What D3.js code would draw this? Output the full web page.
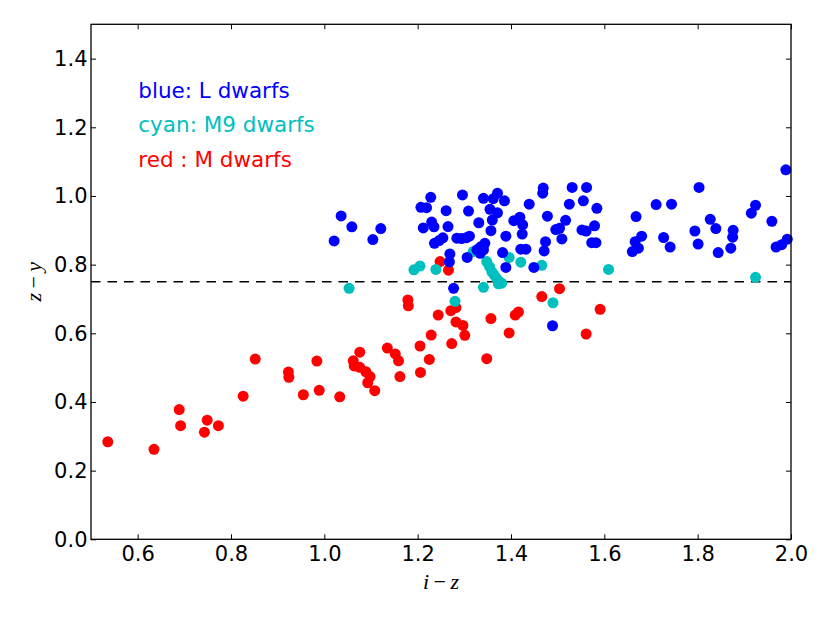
<!DOCTYPE html>
<meta charset="utf-8">
<html>
<head>
  <script src="https://d3js.org/d3.v7.min.js" charset="utf-8"></script>
  <style>
    body { margin: 0; background: #fff; }
    .axis text {
      font-family: 'DejaVu Sans', sans-serif;
      font-size: 21px;
      fill: #000;
    }
    .axis line { stroke: #000; stroke-width: 1; }
    .axis path { display: none; }
    .note {
      font-family: 'DejaVu Sans', sans-serif;
      font-size: 21.5px;
    }
    .axlabel {
      font-family: 'Liberation Serif', 'DejaVu Serif', serif;
      font-size: 22px;
    }
  </style>
</head>
<body>
  <script>
    // [i-z, z-y] for each object
    var lDwarfs = [
      [1.036, 0.942], [1.059, 0.910], [1.021, 0.869], [1.121, 0.905], [1.104, 0.873],
      [1.228, 0.996], [1.207, 0.967], [1.219, 0.966], [1.261, 0.957], [1.296, 1.003],
      [1.309, 0.956], [1.230, 0.924], [1.212, 0.907], [1.235, 0.910], [1.265, 0.911],
      [1.236, 0.862], [1.246, 0.870], [1.254, 0.878], [1.284, 0.877], [1.294, 0.876],
      [1.304, 0.878], [1.311, 0.883], [1.269, 0.831], [1.268, 0.808], [1.306, 0.821],
      [1.277, 0.731], [1.331, 0.922], [1.469, 1.023], [1.468, 1.008], [1.531, 1.025],
      [1.562, 1.025], [1.341, 0.993], [1.371, 1.008], [1.362, 0.992], [1.386, 0.986],
      [1.355, 0.961], [1.371, 0.951], [1.439, 0.976], [1.525, 0.976], [1.555, 0.986],
      [1.584, 0.964], [1.360, 0.930], [1.406, 0.928], [1.419, 0.938], [1.425, 0.916],
      [1.478, 0.941], [1.517, 0.929], [1.357, 0.899], [1.389, 0.883], [1.424, 0.889],
      [1.496, 0.902], [1.504, 0.906], [1.509, 0.875], [1.552, 0.901], [1.561, 0.898],
      [1.573, 0.864], [1.582, 0.864], [1.474, 0.867], [1.344, 0.862], [1.335, 0.852],
      [1.341, 0.843], [1.327, 0.843], [1.421, 0.845], [1.432, 0.845], [1.382, 0.835],
      [1.471, 0.840], [1.389, 0.792], [1.449, 0.792], [1.334, 0.833], [1.489, 0.622],
      [1.579, 0.913], [1.668, 0.940], [1.680, 0.883], [1.666, 0.867], [1.673, 0.848],
      [1.660, 0.838], [1.711, 0.975], [1.744, 0.976], [1.727, 0.879], [1.741, 0.851],
      [1.803, 1.025], [1.794, 0.898], [1.801, 0.860], [1.827, 0.932], [1.839, 0.905],
      [1.844, 0.835], [1.876, 0.900], [1.875, 0.880], [1.871, 0.848], [1.915, 0.950],
      [1.924, 0.973], [1.959, 0.926], [1.968, 0.851], [1.980, 0.858], [1.992, 0.874],
      [1.989, 1.076]
    ];

    var m9Dwarfs = [
      [1.053, 0.731], [1.192, 0.785], [1.205, 0.796], [1.239, 0.786], [1.280, 0.693],
      [1.319, 0.838], [1.348, 0.809], [1.354, 0.794], [1.359, 0.779], [1.364, 0.770],
      [1.369, 0.760], [1.376, 0.750], [1.341, 0.734], [1.373, 0.744], [1.380, 0.746],
      [1.396, 0.821], [1.421, 0.807], [1.466, 0.798], [1.490, 0.689], [1.609, 0.786],
      [1.924, 0.763]
    ];

    var mDwarfs = [
      [0.536, 0.284], [0.635, 0.262], [0.689, 0.378], [0.692, 0.331], [0.749, 0.347],
      [0.743, 0.312], [0.773, 0.331], [0.826, 0.417], [0.852, 0.525], [0.923, 0.487],
      [0.924, 0.472], [0.984, 0.519], [0.955, 0.421], [0.989, 0.434], [1.033, 0.415],
      [1.076, 0.545], [1.062, 0.520], [1.064, 0.505], [1.076, 0.501], [1.089, 0.488],
      [1.098, 0.474], [1.093, 0.456], [1.108, 0.433], [1.135, 0.557], [1.152, 0.540],
      [1.159, 0.520], [1.162, 0.474], [1.179, 0.697], [1.180, 0.680], [1.205, 0.563],
      [1.229, 0.595], [1.225, 0.524], [1.206, 0.486], [1.244, 0.653], [1.248, 0.809],
      [1.266, 0.784], [1.271, 0.666], [1.282, 0.675], [1.282, 0.633], [1.297, 0.623],
      [1.301, 0.594], [1.273, 0.570], [1.357, 0.643], [1.396, 0.601], [1.409, 0.653],
      [1.416, 0.662], [1.348, 0.526], [1.466, 0.707], [1.504, 0.730], [1.561, 0.598],
      [1.591, 0.670]
    ];

    var xTicks = [0.6, 0.8, 1.0, 1.2, 1.4, 1.6, 1.8, 2.0];
    var yTicks = [0.0, 0.2, 0.4, 0.6, 0.8, 1.0, 1.2, 1.4];
    var cutLine = 0.75;
    var notes = ['blue: L dwarfs', 'cyan: M9 dwarfs', 'red : M dwarfs'];

    //Margin conventions
    var m = { top: 24.3, right: 39, bottom: 83.7, left: 91 };
    var w = 830 - m.left - m.right,
      h = 623 - m.top - m.bottom;

    var svg = d3.select('body')
      .append('svg')
      .attr('width', 830)
      .attr('height', 623)
      .append('g')
      .attr('transform', `translate(${m.left}, ${m.top})`);

    var x = d3.scaleLinear().domain([0.5, 2.0]).range([0, w]);
    var y = d3.scaleLinear().domain([0, 1.5]).range([h, 0]);

    //Axes, ticks pointing inwards on all four sides
    svg.append('g')
      .attr('class', 'axis')
      .attr('transform', `translate(0, ${h})`)
      .call(d3.axisBottom(x).tickValues(xTicks).tickSizeInner(-5).tickSizeOuter(0)
        .tickPadding(6.5).tickFormat(d3.format('.1f')));

    svg.append('g')
      .attr('class', 'axis')
      .call(d3.axisTop(x).tickValues(xTicks).tickSizeInner(-5).tickSizeOuter(0)
        .tickFormat(''));

    svg.append('g')
      .attr('class', 'axis')
      .call(d3.axisLeft(y).tickValues(yTicks).tickSizeInner(-5).tickSizeOuter(0)
        .tickPadding(3.5).tickFormat(d3.format('.1f')));

    svg.append('g')
      .attr('class', 'axis')
      .attr('transform', `translate(${w}, 0)`)
      .call(d3.axisRight(y).tickValues(yTicks).tickSizeInner(-5).tickSizeOuter(0)
        .tickFormat(''));

    //Dashed cut at z-y = 0.75
    svg.append('line')
      .attr('x1', x(0.5))
      .attr('x2', x(2.0))
      .attr('y1', y(cutLine))
      .attr('y2', y(cutLine))
      .attr('stroke', '#000')
      .attr('stroke-width', 1.5)
      .attr('stroke-dasharray', '9.5,7');

    //Points: red first, then cyan, blue on top
    var groups = [
      { data: mDwarfs, color: '#ff0000' },
      { data: m9Dwarfs, color: '#00bfbf' },
      { data: lDwarfs, color: '#0000ff' }
    ];

    groups.forEach(g => {
      svg.append('g')
        .selectAll('circle')
        .data(g.data)
        .enter()
        .append('circle')
        .attr('cx', d => x(d[0]))
        .attr('cy', d => y(d[1]))
        .attr('r', 5.5)
        .attr('fill', g.color);
    });

    //Frame
    svg.append('rect')
      .attr('width', w)
      .attr('height', h)
      .attr('fill', 'none')
      .attr('stroke', '#000')
      .attr('stroke-width', 1.3);

    //Text notes
    var noteColors = ['#0000ff', '#00bfbf', '#ff0000'];
    svg.selectAll('.note')
      .data(notes)
      .enter()
      .append('text')
      .attr('class', 'note')
      .attr('x', 138.3 - m.left)
      .attr('y', (d, i) => 98.3 - m.top + i * 34.2)
      .attr('fill', (d, i) => noteColors[i])
      .text(d => d);

    //Axis labels
    var xl = svg.append('text')
      .attr('class', 'axlabel')
      .attr('x', w / 2)
      .attr('y', h + 50)
      .attr('text-anchor', 'middle');
    xl.append('tspan').attr('font-style', 'italic').text('i');
    xl.append('tspan').text('\u2009\u2212\u2009');
    xl.append('tspan').attr('font-style', 'italic').text('z');

    var yl = svg.append('text')
      .attr('class', 'axlabel')
      .attr('transform', `translate(-50, ${h / 2}) rotate(-90)`)
      .attr('text-anchor', 'middle');
    yl.append('tspan').attr('font-style', 'italic').text('z');
    yl.append('tspan').text('\u2009\u2212\u2009');
    yl.append('tspan').attr('font-style', 'italic').text('y');
  </script>
</body>
</html>
